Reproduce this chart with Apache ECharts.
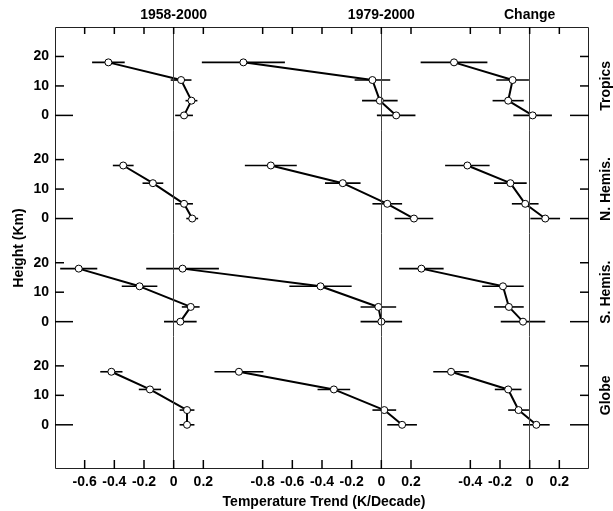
<!DOCTYPE html>
<html>
<head>
<meta charset="utf-8">
<script src="https://cdn.jsdelivr.net/npm/echarts@6/dist/echarts.min.js"></script>
<style>html,body{margin:0;padding:0;background:#fff;}#chart{width:613px;height:511px;}</style>
</head>
<body>
<div id="chart"></div>
<script>
// ---------- data ----------
const heights = [0, 5, 12, 18];
const regionNames = ['Tropics', 'N. Hemis.', 'S. Hemis.', 'Globe'];
const periodNames = ['1958-2000', '1979-2000', 'Change'];
const xTicks1958 = [-0.6, -0.4, -0.2, 0, 0.2];
const xTicks1979 = [-0.8, -0.6, -0.4, -0.2, 0, 0.2];
const xTicksChange = [-0.4, -0.2, 0, 0.2];
const yTickLabels = [0, 10, 20];

// 1958-2000 trends (K/decade) at heights 0,5,12,18 km and half-widths of error bars
const trend1958Tropics = [0.07, 0.12, 0.05, -0.44];
const err1958Tropics   = [0.06, 0.04, 0.07, 0.11];
const trend1958NH      = [0.125, 0.07, -0.14, -0.34];
const err1958NH        = [0.04, 0.06, 0.07, 0.07];
const trend1958SH      = [0.045, 0.115, -0.23, -0.64];
const err1958SH        = [0.11, 0.06, 0.12, 0.125];
const trend1958Globe   = [0.09, 0.09, -0.16, -0.42];
const err1958Globe     = [0.05, 0.05, 0.075, 0.075];

// 1979-2000
const trend1979Tropics = [0.10, -0.01, -0.06, -0.93];
const err1979Tropics   = [0.13, 0.12, 0.12, 0.28];
const trend1979NH      = [0.22, 0.04, -0.26, -0.745];
const err1979NH        = [0.13, 0.10, 0.12, 0.175];
const trend1979SH      = [0.0, -0.02, -0.41, -1.34];
const err1979SH        = [0.14, 0.12, 0.21, 0.245];
const trend1979Globe   = [0.14, 0.02, -0.32, -0.96];
const err1979Globe     = [0.10, 0.08, 0.11, 0.165];

// Change
const trendChangeTropics = [0.02, -0.145, -0.115, -0.51];
const errChangeTropics   = [0.13, 0.105, 0.11, 0.225];
const trendChangeNH      = [0.105, -0.03, -0.13, -0.42];
const errChangeNH        = [0.10, 0.09, 0.11, 0.15];
const trendChangeSH      = [-0.045, -0.14, -0.18, -0.73];
const errChangeSH        = [0.15, 0.10, 0.14, 0.15];
const trendChangeGlobe   = [0.045, -0.075, -0.145, -0.53];
const errChangeGlobe     = [0.09, 0.07, 0.09, 0.12];

// panels[row][col] = [trend, err]
const panels = [
  [[trend1958Tropics, err1958Tropics], [trend1979Tropics, err1979Tropics], [trendChangeTropics, errChangeTropics]],
  [[trend1958NH, err1958NH], [trend1979NH, err1979NH], [trendChangeNH, errChangeNH]],
  [[trend1958SH, err1958SH], [trend1979SH, err1979SH], [trendChangeSH, errChangeSH]],
  [[trend1958Globe, err1958Globe], [trend1979Globe, err1979Globe], [trendChangeGlobe, errChangeGlobe]]
];
const colTicks = [xTicks1958, xTicks1979, xTicksChange];

// ---------- layout ----------
const FONT = '"Liberation Sans", Arial, Helvetica, sans-serif';
const L = 55, R = 589, T = 27, B = 469;
const uMin = -0.8, uMax = 2.8;
const colOffsets = [0, 1.4, 2.4];
const rowRanges = [[-5, 30], [-5, 30], [-5, 30], [-15, 30]];
const totalKm = rowRanges.reduce((s, r) => s + (r[1] - r[0]), 0);
const pxPerKm = (B - T) / totalKm;
const rowTops = [];
let acc = T;
rowRanges.forEach(r => { rowTops.push(acc); acc += (r[1] - r[0]) * pxPerKm; });

const grids = [], xAxes = [], yAxes = [], series = [];
const cellIndex = [];

function errRender(params, api) {
  const h = api.value(1);
  const p1 = api.coord([api.value(2), h]);
  const p2 = api.coord([api.value(3), h]);
  return { type: 'line', shape: { x1: p1[0], y1: p1[1], x2: p2[0], y2: p2[1] },
           style: { stroke: '#000', lineWidth: 1.6 } };
}

for (let r = 0; r < 4; r++) {
  cellIndex.push([]);
  for (let c = 0; c < 3; c++) {
    const g = grids.length;
    cellIndex[r].push(g);
    const rr = rowRanges[r];
    grids.push({ left: L, width: R - L, top: rowTops[r], height: (rr[1] - rr[0]) * pxPerKm, show: false });
    xAxes.push({
      gridIndex: g, type: 'value', min: uMin - colOffsets[c], max: uMax - colOffsets[c],
      position: 'bottom',
      axisLine: { show: false, onZero: false }, splitLine: { show: false }, axisTick: { show: false },
      axisLabel: { show: r === 3, customValues: colTicks[c], margin: 6, color: '#000',
                   fontFamily: FONT, fontWeight: 'bold', fontSize: 14, formatter: v => String(v) }
    });
    yAxes.push({
      gridIndex: g, type: 'value', min: rr[0], max: rr[1], position: 'left',
      axisLine: { show: false, onZero: false }, splitLine: { show: false }, axisTick: { show: false },
      axisLabel: { show: c === 0, customValues: yTickLabels, margin: 6, color: '#000',
                   fontFamily: FONT, fontWeight: 'bold', fontSize: 14 }
    });
    const [trend, err] = panels[r][c];
    series.push({
      type: 'custom', xAxisIndex: g, yAxisIndex: g, clip: false,
      renderItem: errRender, z: 2, encode: { x: [0, 2, 3], y: 1 },
      data: heights.map((h, i) => [trend[i], h, trend[i] - err[i], trend[i] + err[i]])
    });
    series.push({
      type: 'line', xAxisIndex: g, yAxisIndex: g, z: 3, clip: false,
      data: heights.map((h, i) => [trend[i], h]),
      symbol: 'circle', symbolSize: 7, showSymbol: true,
      lineStyle: { color: '#000', width: 2 },
      itemStyle: { color: '#fff', borderColor: '#000', borderWidth: 1 },
      markLine: { silent: true, symbol: 'none', label: { show: false },
                  lineStyle: { color: '#444', width: 1, type: 'solid' }, data: [{ xAxis: 0 }] }
    });
  }
}

const chart = echarts.init(document.getElementById('chart'), null, { renderer: 'canvas' });
chart.setOption({
  animation: false,
  backgroundColor: '#fff',
  grid: grids, xAxis: xAxes, yAxis: yAxes, series: series
});

// ---------- frame, ticks (positioned via the axes' scales) and texts ----------
const toPx = (g, v) => chart.convertToPixel({ gridIndex: g }, v);
const tickPts = [];
for (let c = 0; c < 3; c++) {
  colTicks[c].forEach(v => {
    const xt = toPx(cellIndex[0][c], [v, 0])[0];
    tickPts.push([[xt, T], [xt, T + 7]]);
    const xb = toPx(cellIndex[3][c], [v, 0])[0];
    tickPts.push([[xb, B - 9], [xb, B]]);
  });
}
for (let r = 0; r < 4; r++) {
  yTickLabels.forEach(v => {
    const yl = toPx(cellIndex[r][0], [0, v])[1];
    tickPts.push([[L, yl], [L + (v === 0 ? 18 : 9), yl]]);
    tickPts.push([[R - (v === 0 ? 19 : 9), yl], [R, yl]]);
  });
}
const txt = (text, x, y, rot) => ({
  type: 'text', x: x, y: y, rotation: rot || 0, z: 20,
  style: { text: text, font: 'bold 14px ' + FONT, fill: '#000',
           textAlign: 'center', textVerticalAlign: 'middle', align: 'center', verticalAlign: 'middle' }
});
const graphic = [
  { type: 'rect', z: 20, shape: { x: L + 0.5, y: T + 0.5, width: R - L - 1, height: B - T - 1 },
    style: { fill: 'none', stroke: '#222', lineWidth: 1 } }
];
tickPts.forEach(p => graphic.push({ type: 'polyline', z: 21,
  shape: { points: p }, style: { fill: 'none', stroke: '#000', lineWidth: 1.5 } }));
periodNames.forEach((p, c) => graphic.push(txt(p, toPx(cellIndex[0][c], [0, 0])[0], 15)));
graphic.push(txt('Temperature Trend (K/Decade)', 324, 502));
graphic.push(txt('Height (Km)', 19, 248, Math.PI / 2));
regionNames.forEach((n, r) => {
  graphic.push(txt(n, 606, toPx(cellIndex[r][0], [0, 10])[1], Math.PI / 2));
});
chart.setOption({ graphic: graphic });
</script>
</body>
</html>
